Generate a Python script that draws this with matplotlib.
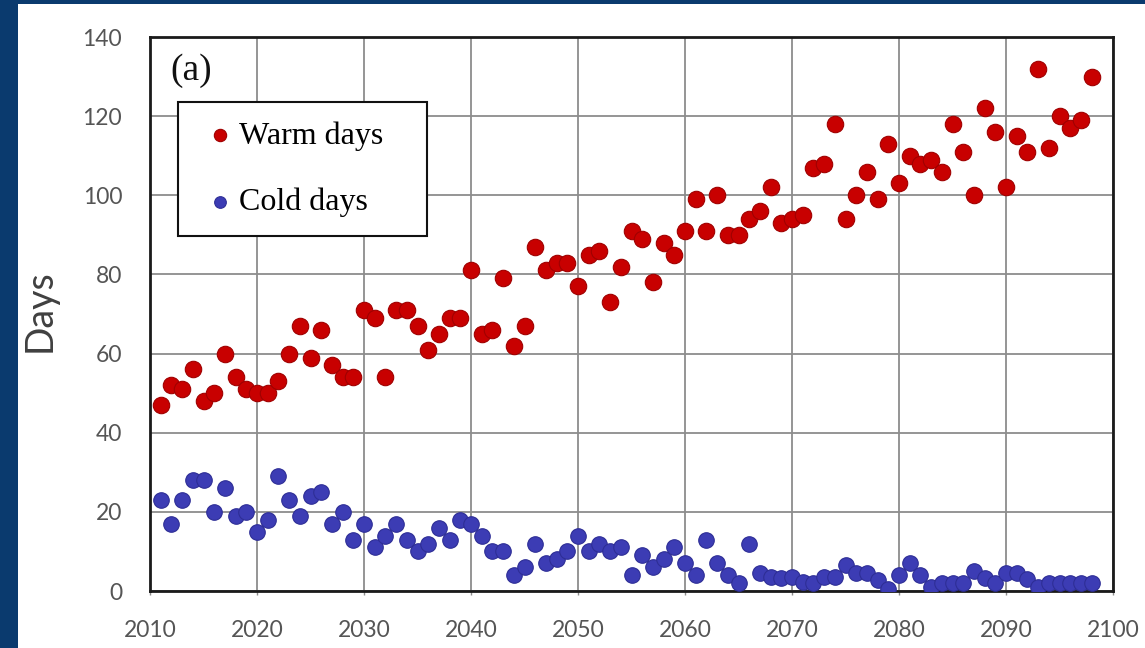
import matplotlib
matplotlib.use("Agg")
import matplotlib.pyplot as plt
from matplotlib.patches import Rectangle

years = list(range(2011, 2099))

warm_days = [
    47, 52, 51, 56, 48, 50, 60, 54, 51, 50,
    50, 53, 60, 67, 59, 66, 57, 54, 54, 71,
    69, 54, 71, 71, 67, 61, 65, 69, 69, 81,
    65, 66, 79, 62, 67, 87, 81, 83, 83, 77,
    85, 86, 73, 82, 91, 89, 78, 88, 85, 91,
    99, 91, 100, 90, 90, 94, 96, 102, 93, 94,
    95, 107, 108, 118, 94, 100, 106, 99, 113, 103,
    110, 108, 109, 106, 118, 111, 100, 122, 116, 102,
    115, 111, 132, 112, 120, 117, 119, 130,
]

cold_days = [
    23, 17, 23, 28, 28, 20, 26, 19, 20, 15,
    18, 29, 23, 19, 24, 25, 17, 20, 13, 17,
    11, 14, 17, 13, 10, 12, 16, 13, 18, 17,
    14, 10, 10, 4, 6, 12, 7, 8, 10, 14,
    10, 12, 10, 11, 4, 9, 6, 8, 11, 7,
    4, 13, 7, 4, 2, 12, 4.5, 3.6, 3.3, 3.6,
    2.4, 2, 3.6, 3.6, 6.6, 4.5, 4.5, 2.8, 0.5, 4,
    7, 4, 1, 2, 2, 2, 5, 3.3, 2, 4.5,
    4.5, 3, 1, 2, 2, 2, 2, 2,
]

W, H = 1145, 648
navy = "#0a3a6e"
fig = plt.figure(figsize=(W / 100, H / 100), dpi=100, facecolor=navy)
# white panel inside the navy frame
fig.patches.append(Rectangle((18 / W, 0), 1, 644 / H, transform=fig.transFigure,
                             facecolor="white", edgecolor="none", zorder=-10))

ax = fig.add_axes([150 / W, 57 / H, 963 / W, 554 / H])
ax.set_facecolor("white")

ax.scatter(years, warm_days, s=140, color="#c80000", edgecolors="#a00000",
           linewidths=0.8, zorder=3, label="Warm days")
ax.scatter(years, cold_days, s=125, color="#3c3cb4", edgecolors="#2e2e96",
           linewidths=0.8, zorder=3, label="Cold days")

ax.set_xlim(2010, 2100)
ax.set_ylim(0, 140)
ax.set_xticks(range(2010, 2101, 10))
ax.set_yticks(range(0, 141, 20))
ax.grid(True, color="#8c8c8c", linewidth=1.3, zorder=0)
ax.set_axisbelow(True)
for sp in ax.spines.values():
    sp.set_linewidth(2)
    sp.set_color("#1a1a1a")

ax.tick_params(axis="x", length=3, width=1, color="#8c8c8c", pad=18)
ax.tick_params(axis="y", length=0, pad=20)
for lbl in ax.get_xticklabels() + ax.get_yticklabels():
    lbl.set_fontfamily("Lato")
    lbl.set_fontsize(16.5)
    lbl.set_color("#555555")

fig.text(40 / W, 1 - 311 / H, "Days", rotation=90, ha="center", va="center",
         fontfamily="Lato", fontsize=27, color="#404040")

ax.text(170 / W, 1 - 71 / H, "(a)", transform=fig.transFigure,
        fontfamily="Liberation Serif", fontsize=27, va="center", ha="left",
        color="#111111")

leg = ax.legend(loc="upper left",
                bbox_to_anchor=((178 - 150) / 963, (591 - 102) / 554, 249 / 963, 0.0),
                mode="expand", frameon=True, fancybox=False, edgecolor="#111111",
                framealpha=1, prop={"family": "Liberation Serif", "size": 23},
                markerscale=0.75, handletextpad=-0.1, labelspacing=1.15,
                borderpad=0.6, handlelength=1.4, borderaxespad=0)
leg.get_frame().set_linewidth(1.5)

fig.savefig("out.png", dpi=100, facecolor=navy)
